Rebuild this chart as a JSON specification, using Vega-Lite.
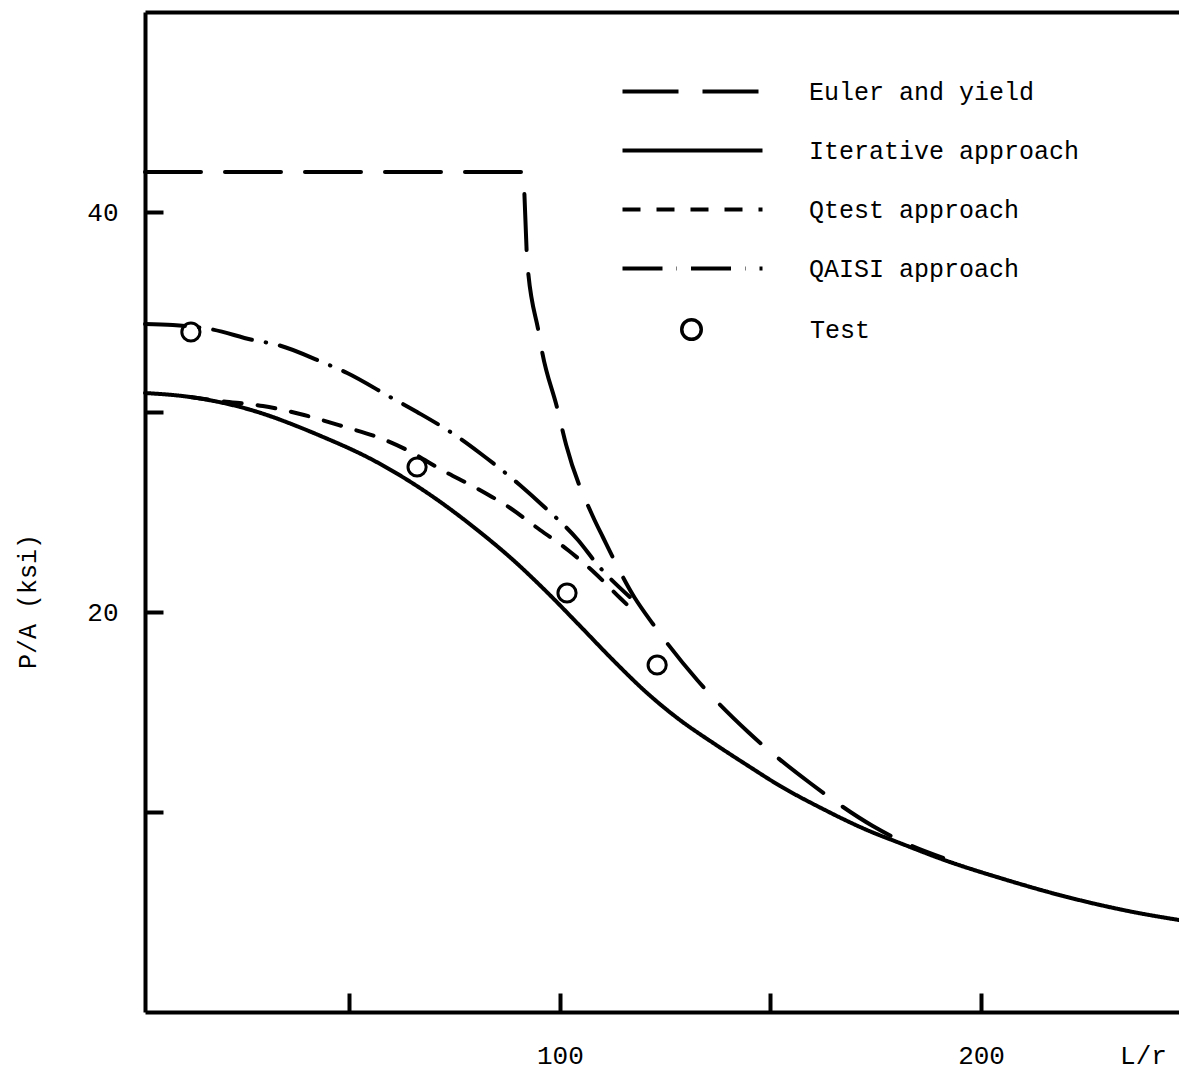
{
  "$schema": "https://vega.github.io/schema/vega-lite/v6.json",
  "width": 1034,
  "height": 1000,
  "autosize": {"type": "none"},
  "padding": {"left": 145, "top": 12, "right": 0, "bottom": 58},
  "background": "white",
  "config": {
    "view": {"stroke": null},
    "font": "Liberation Mono",
    "axis": {
      "grid": false,
      "domainColor": "black",
      "domainWidth": 4,
      "tickColor": "black",
      "tickWidth": 4,
      "labelColor": "black",
      "titleColor": "black",
      "labelFont": "Liberation Mono",
      "titleFont": "Liberation Mono",
      "labelFontSize": 26,
      "titleFontSize": 26,
      "titleFontWeight": "normal",
      "labelFlush": false,
      "labelOverlap": false
    },
    "legend": {
      "labelFont": "Liberation Mono",
      "labelFontSize": 25,
      "labelColor": "black",
      "labelLimit": 0,
      "padding": 0
    }
  },
  "datasets": {
    "curves": [
      {"series": "Euler and yield", "x": 1.5, "y": 42},
      {"series": "Euler and yield", "x": 91.2, "y": 42},
      {"series": "Euler and yield", "x": 92.0, "y": 38.65},
      {"series": "Euler and yield", "x": 92.2, "y": 37.65},
      {"series": "Euler and yield", "x": 95.0, "y": 33.95},
      {"series": "Euler and yield", "x": 95.8, "y": 33.0},
      {"series": "Euler and yield", "x": 99.3, "y": 30.25},
      {"series": "Euler and yield", "x": 101.5, "y": 28.35},
      {"series": "Euler and yield", "x": 107.9, "y": 24.75},
      {"series": "Euler and yield", "x": 110.2, "y": 23.75},
      {"series": "Euler and yield", "x": 117.8, "y": 20.7},
      {"series": "Euler and yield", "x": 122.1, "y": 19.4},
      {"series": "Euler and yield", "x": 132.6, "y": 16.6},
      {"series": "Euler and yield", "x": 144.7, "y": 14.0},
      {"series": "Euler and yield", "x": 159.4, "y": 11.45},
      {"series": "Euler and yield", "x": 174.3, "y": 9.3},
      {"series": "Euler and yield", "x": 182.0, "y": 8.45},
      {"series": "Euler and yield", "x": 191.0, "y": 7.7},
      {"series": "Iterative approach", "x": 1.5, "y": 30.95},
      {"series": "Iterative approach", "x": 12.2, "y": 30.75},
      {"series": "Iterative approach", "x": 24.1, "y": 30.25},
      {"series": "Iterative approach", "x": 43.8, "y": 28.75},
      {"series": "Iterative approach", "x": 55.6, "y": 27.6},
      {"series": "Iterative approach", "x": 67.5, "y": 26.1},
      {"series": "Iterative approach", "x": 81.0, "y": 24.0},
      {"series": "Iterative approach", "x": 88.9, "y": 22.6},
      {"series": "Iterative approach", "x": 96.9, "y": 21.0},
      {"series": "Iterative approach", "x": 104.8, "y": 19.3},
      {"series": "Iterative approach", "x": 112.6, "y": 17.6},
      {"series": "Iterative approach", "x": 120.7, "y": 15.95},
      {"series": "Iterative approach", "x": 128.5, "y": 14.6},
      {"series": "Iterative approach", "x": 136.4, "y": 13.45},
      {"series": "Iterative approach", "x": 144.4, "y": 12.35},
      {"series": "Iterative approach", "x": 152.3, "y": 11.3},
      {"series": "Iterative approach", "x": 162.0, "y": 10.2},
      {"series": "Iterative approach", "x": 172.9, "y": 9.1},
      {"series": "Iterative approach", "x": 180.7, "y": 8.45},
      {"series": "Iterative approach", "x": 192.6, "y": 7.5},
      {"series": "Iterative approach", "x": 204.5, "y": 6.7},
      {"series": "Iterative approach", "x": 220.4, "y": 5.75},
      {"series": "Iterative approach", "x": 236.1, "y": 5.0},
      {"series": "Iterative approach", "x": 247.0, "y": 4.6},
      {"series": "Qtest approach", "x": 12.2, "y": 30.75},
      {"series": "Qtest approach", "x": 19.3, "y": 30.55},
      {"series": "Qtest approach", "x": 29.5, "y": 30.3},
      {"series": "Qtest approach", "x": 38.3, "y": 29.9},
      {"series": "Qtest approach", "x": 49.0, "y": 29.25},
      {"series": "Qtest approach", "x": 57.3, "y": 28.7},
      {"series": "Qtest approach", "x": 63.7, "y": 28.1},
      {"series": "Qtest approach", "x": 72.0, "y": 27.1},
      {"series": "Qtest approach", "x": 81.0, "y": 26.1},
      {"series": "Qtest approach", "x": 88.2, "y": 25.2},
      {"series": "Qtest approach", "x": 95.3, "y": 24.1},
      {"series": "Qtest approach", "x": 101.9, "y": 23.1},
      {"series": "Qtest approach", "x": 108.3, "y": 21.95},
      {"series": "Qtest approach", "x": 114.3, "y": 20.7},
      {"series": "Qtest approach", "x": 117.8, "y": 20.0},
      {"series": "QAISI approach", "x": 1.5, "y": 34.4},
      {"series": "QAISI approach", "x": 8.1, "y": 34.35},
      {"series": "QAISI approach", "x": 16.9, "y": 34.15},
      {"series": "QAISI approach", "x": 27.1, "y": 33.6},
      {"series": "QAISI approach", "x": 33.1, "y": 33.35},
      {"series": "QAISI approach", "x": 43.5, "y": 32.5},
      {"series": "QAISI approach", "x": 49.5, "y": 31.95},
      {"series": "QAISI approach", "x": 59.7, "y": 30.75},
      {"series": "QAISI approach", "x": 66.1, "y": 30.0},
      {"series": "QAISI approach", "x": 75.1, "y": 28.85},
      {"series": "QAISI approach", "x": 81.0, "y": 27.95},
      {"series": "QAISI approach", "x": 90.5, "y": 26.35},
      {"series": "QAISI approach", "x": 95.8, "y": 25.35},
      {"series": "QAISI approach", "x": 104.3, "y": 23.6},
      {"series": "QAISI approach", "x": 109.0, "y": 22.35},
      {"series": "QAISI approach", "x": 116.6, "y": 20.75}
    ],
    "tests": [
      {"kind": "Test", "x": 12.4, "y": 34.0},
      {"kind": "Test", "x": 66.1, "y": 27.25},
      {"kind": "Test", "x": 101.7, "y": 20.95},
      {"kind": "Test", "x": 123.1, "y": 17.35}
    ]
  },
  "layer": [
    {
      "data": {"name": "curves"},
      "mark": {"type": "line", "color": "black", "strokeWidth": 4, "strokeCap": "round", "strokeJoin": "round", "interpolate": "monotone"},
      "encoding": {
        "x": {
          "field": "x", "type": "quantitative",
          "scale": {"domain": [1.5, 247], "nice": false, "zero": false},
          "axis": {
            "orient": "bottom",
            "values": [50, 100, 150, 200],
            "labelExpr": "datum.value == 100 || datum.value == 200 ? datum.label : ''",
            "tickSize": -19,
            "labelPadding": 49,
            "title": "L/r",
            "titleX": 998,
            "titleY": 43,
            "titleBaseline": "middle",
            "titleAlign": "center"
          }
        },
        "y": {
          "field": "y", "type": "quantitative",
          "scale": {"domain": [0, 50], "nice": false, "zero": false},
          "axis": {
            "orient": "left",
            "values": [10, 20, 30, 40],
            "labelExpr": "datum.value == 20 || datum.value == 40 ? datum.label : ''",
            "tickSize": -18,
            "labelPadding": 45,
            "title": "P/A (ksi)",
            "titleFontSize": 25,
            "titleX": -118,
            "titleY": 589,
            "titleAngle": -90,
            "titleBaseline": "middle",
            "titleAlign": "center"
          }
        },
        "strokeDash": {
          "field": "series", "type": "nominal",
          "scale": {
            "domain": ["Euler and yield", "Iterative approach", "Qtest approach", "QAISI approach"],
            "range": [[56, 24], [1, 0], [18, 16], [40, 14, 0.5, 14]]
          },
          "legend": {
            "title": null,
            "orient": "none",
            "legendX": 528,
            "legendY": 60,
            "symbolType": "M-4,0H4",
            "symbolSize": 1225,
            "symbolStrokeWidth": 4,
            "symbolStrokeColor": "black",
            "symbolFillColor": "transparent",
            "labelOffset": 97,
            "rowPadding": 26
          }
        }
      }
    },
    {
      "data": {"name": "tests"},
      "mark": {"type": "point", "shape": "circle", "filled": false, "color": "black", "strokeWidth": 3, "size": 330, "opacity": 1},
      "encoding": {
        "x": {
          "field": "x", "type": "quantitative",
          "axis": {"orient": "top", "labels": false, "ticks": false, "title": null, "domainWidth": 4}
        },
        "y": {
          "field": "y", "type": "quantitative",
          "axis": {
            "orient": "left",
            "values": [10, 20, 30, 40],
            "labelExpr": "datum.value == 20 || datum.value == 40 ? datum.label : ''",
            "tickSize": -18,
            "labelPadding": 45,
            "title": "P/A (ksi)",
            "titleFontSize": 25,
            "titleX": -118,
            "titleY": 589,
            "titleAngle": -90,
            "titleBaseline": "middle",
            "titleAlign": "center"
          }
        },
        "shape": {
          "field": "kind", "type": "nominal",
          "scale": {"domain": ["Test"], "range": ["circle"]},
          "legend": {
            "title": null,
            "orient": "none",
            "legendX": 534,
            "legendY": 305,
            "symbolSize": 380,
            "symbolStrokeWidth": 3.5,
            "symbolStrokeColor": "black",
            "symbolFillColor": "transparent",
            "labelOffset": 106
          }
        }
      }
    }
  ]
}
